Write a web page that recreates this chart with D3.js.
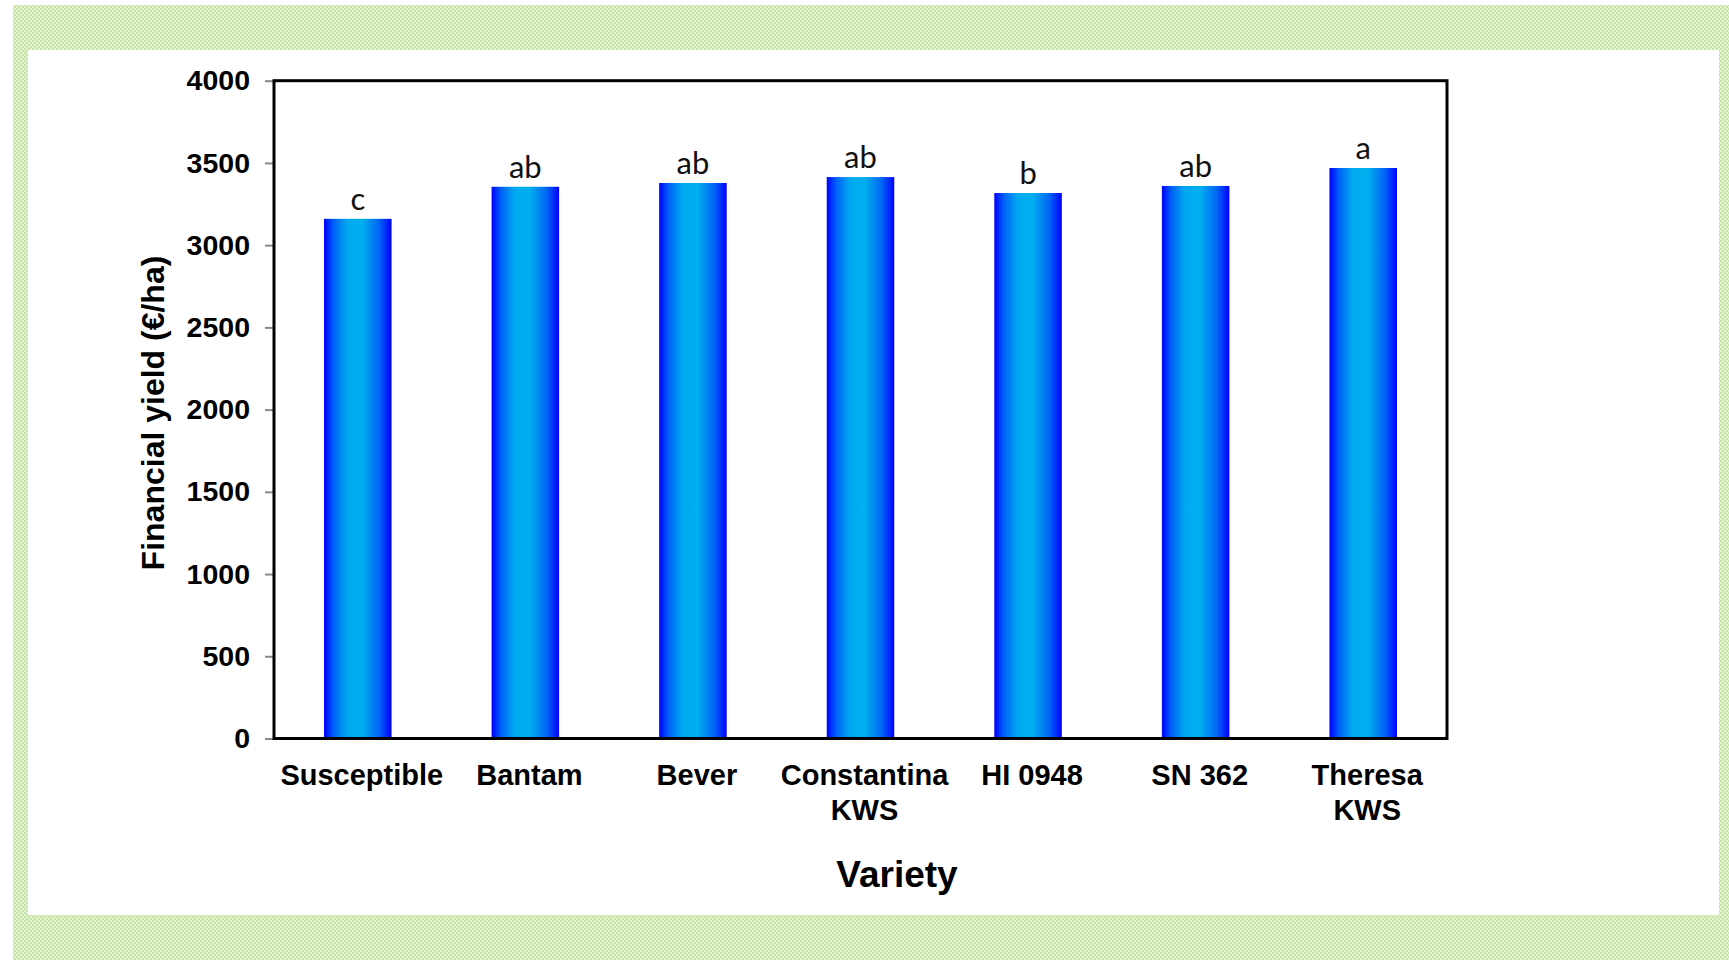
<!DOCTYPE html>
<html>
<head>
<meta charset="utf-8">
<script src="https://cdn.jsdelivr.net/npm/d3@7"></script>
<style>
body { margin: 0; background: #fff; }
</style>
</head>
<body>
<div id="chart"></div>
<script>
// variety names (\n = line break under the axis)
var varieties = ["Susceptible", "Bantam", "Bever", "Constantina\nKWS", "HI 0948", "SN 362", "Theresa\nKWS"];
var yieldEur = [3160, 3355, 3378, 3414, 3317, 3360, 3469];
var groups = ["c", "ab", "ab", "ab", "b", "ab", "a"];
var yTicks = [0, 500, 1000, 1500, 2000, 2500, 3000, 3500, 4000];

var width = 1729, height = 960;

var svg = d3.select("#chart").append("svg")
	.attr("width", width)
	.attr("height", height);

var defs = svg.append("defs");

// checkered green frame
var pat = defs.append("pattern")
	.attr("id", "greenCheck")
	.attr("patternUnits", "userSpaceOnUse")
	.attr("width", 4).attr("height", 4);
pat.append("rect").attr("width", 4).attr("height", 4).attr("fill", "#e4f3d4");
pat.append("rect").attr("width", 2).attr("height", 2).attr("fill", "#c4e4a2");
pat.append("rect").attr("x", 2).attr("y", 2).attr("width", 2).attr("height", 2).attr("fill", "#c4e4a2");

var grad = defs.append("linearGradient")
	.attr("id", "barGrad")
	.attr("x1", "0%").attr("x2", "100%").attr("y1", "0%").attr("y2", "0%");
grad.append("stop").attr("offset", "0%").attr("stop-color", "#0000ff");
grad.append("stop").attr("offset", "14%").attr("stop-color", "#0060f7");
grad.append("stop").attr("offset", "34%").attr("stop-color", "#00a8f0");
grad.append("stop").attr("offset", "56%").attr("stop-color", "#00b0ee");
grad.append("stop").attr("offset", "82%").attr("stop-color", "#0064f6");
grad.append("stop").attr("offset", "100%").attr("stop-color", "#0000ff");

svg.append("rect")
	.attr("x", 13).attr("y", 5)
	.attr("width", width - 13).attr("height", height - 5)
	.attr("fill", "url(#greenCheck)");
svg.append("rect")
	.attr("x", 28).attr("y", 50)
	.attr("width", 1719 - 28).attr("height", 915 - 50)
	.attr("fill", "#fff");

var pLeft = 274, pRight = 1447, pTop = 80.7, pBottom = 738.5;

var x = d3.scaleBand()
	.domain(varieties)
	.range([pLeft, pRight])
	.padding(0);

var y = d3.scaleLinear()
	.domain([0, 4000])
	.range([pBottom, pTop]);

var barW = x.bandwidth() * 0.403;

// y axis
var yAxis = svg.append("g")
	.attr("transform", "translate(" + pLeft + ",0)")
	.call(d3.axisLeft(y).tickValues(yTicks).tickFormat(d3.format("d")).tickSize(9).tickPadding(15));
yAxis.select(".domain").remove();
yAxis.selectAll(".tick line").attr("stroke", "#888").attr("stroke-width", 2);
yAxis.selectAll(".tick text")
	.attr("fill", "#000")
	.style("font-family", "Liberation Sans, Arial, sans-serif")
	.style("font-weight", "bold")
	.style("font-size", "28.5px");

// bars
svg.selectAll(".bar")
	.data(varieties)
	.enter().append("rect")
	.attr("class", "bar")
	.attr("x", function(d) { return x(d) + x.bandwidth() / 2 - barW / 2; })
	.attr("y", function(d, i) { return y(yieldEur[i]); })
	.attr("width", barW)
	.attr("height", function(d, i) { return y(0) - y(yieldEur[i]); })
	.attr("fill", "url(#barGrad)");

// significance letters
svg.selectAll(".grp")
	.data(varieties)
	.enter().append("text")
	.attr("class", "grp")
	.attr("x", function(d) { return x(d) + x.bandwidth() / 2; })
	.attr("y", function(d, i) { return y(yieldEur[i]) - 9; })
	.attr("text-anchor", "middle")
	.style("font-family", "Lato, 'Open Sans', sans-serif")
	.style("font-size", "31px")
	.attr("fill", "#111")
	.text(function(d, i) { return groups[i]; });

// frame
svg.append("rect")
	.attr("x", pLeft).attr("y", pTop)
	.attr("width", pRight - pLeft).attr("height", pBottom - pTop)
	.attr("fill", "none")
	.attr("stroke", "#000")
	.attr("stroke-width", 3);

// x axis labels
var xAxis = svg.append("g")
	.attr("transform", "translate(0," + pBottom + ")")
	.call(d3.axisBottom(x).tickSize(0).tickPadding(0));
xAxis.select(".domain").remove();
xAxis.selectAll(".tick text")
	.attr("fill", "#000")
	.attr("dy", null)
	.attr("y", 0)
	.attr("x", 4)
	.style("font-family", "Liberation Sans, Arial, sans-serif")
	.style("font-weight", "bold")
	.style("font-size", "29px")
	.each(function(d) {
		var t = d3.select(this);
		var lines = d.split("\n");
		t.text(null);
		lines.forEach(function(l, k) {
			t.append("tspan").attr("x", 4).attr("y", 46 + k * 35).text(l);
		});
	});

svg.append("text")
	.attr("x", 897)
	.attr("y", 887)
	.attr("text-anchor", "middle")
	.style("font-family", "Liberation Sans, Arial, sans-serif")
	.style("font-weight", "bold")
	.style("font-size", "37px")
	.text("Variety");

svg.append("text")
	.attr("transform", "translate(153,413) rotate(-90)")
	.attr("dy", "0.35em")
	.attr("text-anchor", "middle")
	.style("font-family", "Liberation Sans, Arial, sans-serif")
	.style("font-weight", "bold")
	.style("font-size", "32px")
	.text("Financial yield (€/ha)");
</script>
</body>
</html>
